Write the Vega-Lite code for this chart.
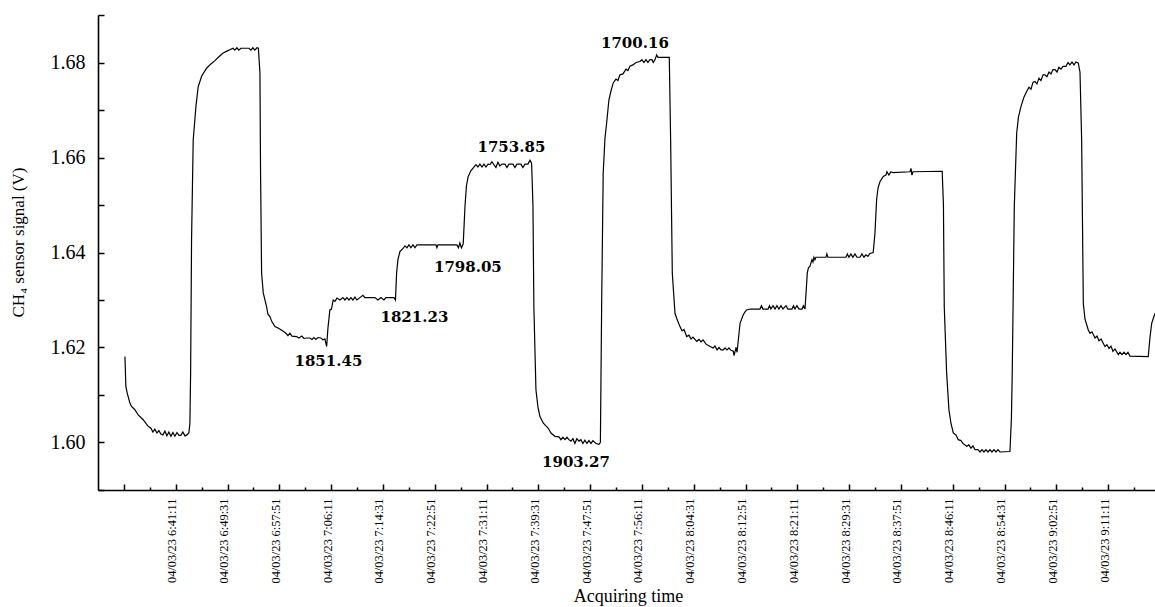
{
"$schema": "https://vega.github.io/schema/vega-lite/v6.json",
"width": 1057,
"height": 475,
"autosize": {"type": "none"},
"padding": {"left": 98, "top": 15, "right": 0, "bottom": 117},
"background": "white",
"config": {"view": {"stroke": null}},
"datasets": {
"signal": [
{"t":"2023-04-03 06:33:01","v":1.6181},{"t":"2023-04-03 06:33:10","v":1.6118},{"t":"2023-04-03 06:33:23","v":1.6104},{"t":"2023-04-03 06:33:49","v":1.6083},{"t":"2023-04-03 06:34:05","v":1.6076},{"t":"2023-04-03 06:34:37","v":1.6069},{"t":"2023-04-03 06:35:09","v":1.6058},{"t":"2023-04-03 06:35:57","v":1.6048},{"t":"2023-04-03 06:36:45","v":1.6034},{"t":"2023-04-03 06:37:12","v":1.6030},{"t":"2023-04-03 06:37:31","v":1.6022},{"t":"2023-04-03 06:37:50","v":1.6028},{"t":"2023-04-03 06:38:10","v":1.6020},{"t":"2023-04-03 06:38:29","v":1.6025},{"t":"2023-04-03 06:38:48","v":1.6018},{"t":"2023-04-03 06:39:07","v":1.6016},{"t":"2023-04-03 06:39:27","v":1.6024},{"t":"2023-04-03 06:39:46","v":1.6014},{"t":"2023-04-03 06:40:05","v":1.6022},{"t":"2023-04-03 06:40:25","v":1.6013},{"t":"2023-04-03 06:40:44","v":1.6021},{"t":"2023-04-03 06:41:03","v":1.6013},{"t":"2023-04-03 06:41:23","v":1.6021},{"t":"2023-04-03 06:41:42","v":1.6015},{"t":"2023-04-03 06:42:01","v":1.6015},{"t":"2023-04-03 06:42:20","v":1.6022},{"t":"2023-04-03 06:42:40","v":1.6014},{"t":"2023-04-03 06:42:59","v":1.6016},{"t":"2023-04-03 06:43:18","v":1.6020},{"t":"2023-04-03 06:43:28","v":1.6040},{"t":"2023-04-03 06:43:35","v":1.6147},{"t":"2023-04-03 06:43:44","v":1.6427},{"t":"2023-04-03 06:44:00","v":1.6637},{"t":"2023-04-03 06:44:26","v":1.6707},{"t":"2023-04-03 06:44:48","v":1.6749},{"t":"2023-04-03 06:45:21","v":1.6771},{"t":"2023-04-03 06:46:09","v":1.6788},{"t":"2023-04-03 06:46:51","v":1.6797},{"t":"2023-04-03 06:47:29","v":1.6804},{"t":"2023-04-03 06:48:08","v":1.6812},{"t":"2023-04-03 06:48:49","v":1.6820},{"t":"2023-04-03 06:49:25","v":1.6824},{"t":"2023-04-03 06:49:54","v":1.6827},{"t":"2023-04-03 06:50:23","v":1.6830},{"t":"2023-04-03 06:50:42","v":1.6826},{"t":"2023-04-03 06:51:02","v":1.6831},{"t":"2023-04-03 06:51:21","v":1.6826},{"t":"2023-04-03 06:51:40","v":1.6830},{"t":"2023-04-03 06:52:19","v":1.6830},{"t":"2023-04-03 06:52:58","v":1.6830},{"t":"2023-04-03 06:53:17","v":1.6826},{"t":"2023-04-03 06:53:36","v":1.6831},{"t":"2023-04-03 06:53:55","v":1.6826},{"t":"2023-04-03 06:54:15","v":1.6831},{"t":"2023-04-03 06:54:29","v":1.6830},{"t":"2023-04-03 06:54:44","v":1.6778},{"t":"2023-04-03 06:54:50","v":1.6568},{"t":"2023-04-03 06:55:00","v":1.6357},{"t":"2023-04-03 06:55:16","v":1.6315},{"t":"2023-04-03 06:55:48","v":1.6286},{"t":"2023-04-03 06:56:01","v":1.6270},{"t":"2023-04-03 06:56:20","v":1.6265},{"t":"2023-04-03 06:56:40","v":1.6254},{"t":"2023-04-03 06:57:09","v":1.6244},{"t":"2023-04-03 06:57:47","v":1.6240},{"t":"2023-04-03 06:58:29","v":1.6234},{"t":"2023-04-03 06:58:55","v":1.6230},{"t":"2023-04-03 06:59:14","v":1.6225},{"t":"2023-04-03 06:59:33","v":1.6230},{"t":"2023-04-03 06:59:53","v":1.6224},{"t":"2023-04-03 07:00:38","v":1.6223},{"t":"2023-04-03 07:01:00","v":1.6220},{"t":"2023-04-03 07:01:29","v":1.6224},{"t":"2023-04-03 07:01:48","v":1.6219},{"t":"2023-04-03 07:02:15","v":1.6220},{"t":"2023-04-03 07:02:46","v":1.6220},{"t":"2023-04-03 07:03:06","v":1.6217},{"t":"2023-04-03 07:03:25","v":1.6221},{"t":"2023-04-03 07:03:44","v":1.6217},{"t":"2023-04-03 07:04:04","v":1.6221},{"t":"2023-04-03 07:04:33","v":1.6220},{"t":"2023-04-03 07:04:52","v":1.6216},{"t":"2023-04-03 07:05:11","v":1.6218},{"t":"2023-04-03 07:05:28","v":1.6202},{"t":"2023-04-03 07:05:40","v":1.6240},{"t":"2023-04-03 07:05:59","v":1.6279},{"t":"2023-04-03 07:06:14","v":1.6281},{"t":"2023-04-03 07:06:31","v":1.6300},{"t":"2023-04-03 07:06:48","v":1.6297},{"t":"2023-04-03 07:07:07","v":1.6304},{"t":"2023-04-03 07:07:36","v":1.6300},{"t":"2023-04-03 07:08:05","v":1.6305},{"t":"2023-04-03 07:08:24","v":1.6300},{"t":"2023-04-03 07:08:43","v":1.6305},{"t":"2023-04-03 07:09:03","v":1.6300},{"t":"2023-04-03 07:09:22","v":1.6305},{"t":"2023-04-03 07:09:41","v":1.6300},{"t":"2023-04-03 07:10:01","v":1.6306},{"t":"2023-04-03 07:10:20","v":1.6300},{"t":"2023-04-03 07:10:49","v":1.6305},{"t":"2023-04-03 07:11:18","v":1.6310},{"t":"2023-04-03 07:11:37","v":1.6305},{"t":"2023-04-03 07:13:14","v":1.6305},{"t":"2023-04-03 07:13:43","v":1.6300},{"t":"2023-04-03 07:14:12","v":1.6305},{"t":"2023-04-03 07:14:41","v":1.6300},{"t":"2023-04-03 07:15:00","v":1.6305},{"t":"2023-04-03 07:16:17","v":1.6305},{"t":"2023-04-03 07:16:32","v":1.6300},{"t":"2023-04-03 07:16:43","v":1.6357},{"t":"2023-04-03 07:16:56","v":1.6385},{"t":"2023-04-03 07:17:15","v":1.6402},{"t":"2023-04-03 07:17:47","v":1.6409},{"t":"2023-04-03 07:18:03","v":1.6414},{"t":"2023-04-03 07:18:23","v":1.6410},{"t":"2023-04-03 07:18:42","v":1.6416},{"t":"2023-04-03 07:19:01","v":1.6410},{"t":"2023-04-03 07:19:21","v":1.6416},{"t":"2023-04-03 07:19:40","v":1.6410},{"t":"2023-04-03 07:19:59","v":1.6416},{"t":"2023-04-03 07:20:28","v":1.6416},{"t":"2023-04-03 07:23:03","v":1.6416},{"t":"2023-04-03 07:23:12","v":1.6410},{"t":"2023-04-03 07:23:22","v":1.6416},{"t":"2023-04-03 07:26:25","v":1.6416},{"t":"2023-04-03 07:26:40","v":1.6410},{"t":"2023-04-03 07:26:54","v":1.6420},{"t":"2023-04-03 07:27:09","v":1.6410},{"t":"2023-04-03 07:27:26","v":1.6418},{"t":"2023-04-03 07:27:43","v":1.6497},{"t":"2023-04-03 07:27:57","v":1.6540},{"t":"2023-04-03 07:28:14","v":1.6560},{"t":"2023-04-03 07:28:40","v":1.6572},{"t":"2023-04-03 07:29:03","v":1.6578},{"t":"2023-04-03 07:29:29","v":1.6585},{"t":"2023-04-03 07:29:48","v":1.6580},{"t":"2023-04-03 07:30:07","v":1.6586},{"t":"2023-04-03 07:30:27","v":1.6580},{"t":"2023-04-03 07:30:46","v":1.6586},{"t":"2023-04-03 07:31:05","v":1.6580},{"t":"2023-04-03 07:31:25","v":1.6586},{"t":"2023-04-03 07:31:44","v":1.6585},{"t":"2023-04-03 07:32:03","v":1.6591},{"t":"2023-04-03 07:32:22","v":1.6585},{"t":"2023-04-03 07:32:42","v":1.6579},{"t":"2023-04-03 07:33:01","v":1.6590},{"t":"2023-04-03 07:33:20","v":1.6582},{"t":"2023-04-03 07:33:40","v":1.6586},{"t":"2023-04-03 07:34:09","v":1.6586},{"t":"2023-04-03 07:34:28","v":1.6579},{"t":"2023-04-03 07:34:47","v":1.6586},{"t":"2023-04-03 07:35:26","v":1.6586},{"t":"2023-04-03 07:35:45","v":1.6579},{"t":"2023-04-03 07:36:04","v":1.6586},{"t":"2023-04-03 07:36:43","v":1.6586},{"t":"2023-04-03 07:37:02","v":1.6579},{"t":"2023-04-03 07:37:22","v":1.6586},{"t":"2023-04-03 07:37:51","v":1.6586},{"t":"2023-04-03 07:38:10","v":1.6594},{"t":"2023-04-03 07:38:26","v":1.6588},{"t":"2023-04-03 07:38:39","v":1.6500},{"t":"2023-04-03 07:38:48","v":1.6286},{"t":"2023-04-03 07:39:08","v":1.6111},{"t":"2023-04-03 07:39:27","v":1.6075},{"t":"2023-04-03 07:39:46","v":1.6055},{"t":"2023-04-03 07:40:18","v":1.6041},{"t":"2023-04-03 07:40:44","v":1.6035},{"t":"2023-04-03 07:41:07","v":1.6030},{"t":"2023-04-03 07:41:33","v":1.6020},{"t":"2023-04-03 07:42:11","v":1.6013},{"t":"2023-04-03 07:42:50","v":1.6012},{"t":"2023-04-03 07:43:09","v":1.6006},{"t":"2023-04-03 07:43:28","v":1.6011},{"t":"2023-04-03 07:43:48","v":1.6006},{"t":"2023-04-03 07:44:07","v":1.6011},{"t":"2023-04-03 07:44:26","v":1.6006},{"t":"2023-04-03 07:44:46","v":1.6003},{"t":"2023-04-03 07:45:05","v":1.6008},{"t":"2023-04-03 07:45:24","v":1.5998},{"t":"2023-04-03 07:45:43","v":1.6008},{"t":"2023-04-03 07:46:03","v":1.6003},{"t":"2023-04-03 07:46:22","v":1.6006},{"t":"2023-04-03 07:46:41","v":1.5998},{"t":"2023-04-03 07:47:01","v":1.6005},{"t":"2023-04-03 07:47:20","v":1.5998},{"t":"2023-04-03 07:47:39","v":1.6004},{"t":"2023-04-03 07:47:59","v":1.5998},{"t":"2023-04-03 07:48:18","v":1.6004},{"t":"2023-04-03 07:48:47","v":1.5998},{"t":"2023-04-03 07:49:16","v":1.5996},{"t":"2023-04-03 07:49:30","v":1.6000},{"t":"2023-04-03 07:49:42","v":1.6286},{"t":"2023-04-03 07:49:57","v":1.6567},{"t":"2023-04-03 07:50:14","v":1.6640},{"t":"2023-04-03 07:50:30","v":1.6672},{"t":"2023-04-03 07:50:52","v":1.6721},{"t":"2023-04-03 07:51:12","v":1.6740},{"t":"2023-04-03 07:51:34","v":1.6757},{"t":"2023-04-03 07:52:00","v":1.6765},{"t":"2023-04-03 07:52:19","v":1.6762},{"t":"2023-04-03 07:52:39","v":1.6774},{"t":"2023-04-03 07:53:08","v":1.6776},{"t":"2023-04-03 07:53:37","v":1.6786},{"t":"2023-04-03 07:53:56","v":1.6783},{"t":"2023-04-03 07:54:15","v":1.6792},{"t":"2023-04-03 07:54:44","v":1.6795},{"t":"2023-04-03 07:55:13","v":1.6800},{"t":"2023-04-03 07:55:52","v":1.6802},{"t":"2023-04-03 07:56:11","v":1.6806},{"t":"2023-04-03 07:56:30","v":1.6800},{"t":"2023-04-03 07:56:50","v":1.6806},{"t":"2023-04-03 07:57:09","v":1.6800},{"t":"2023-04-03 07:57:28","v":1.6806},{"t":"2023-04-03 07:57:48","v":1.6806},{"t":"2023-04-03 07:58:00","v":1.6800},{"t":"2023-04-03 07:58:17","v":1.6806},{"t":"2023-04-03 07:58:33","v":1.6816},{"t":"2023-04-03 07:58:46","v":1.6811},{"t":"2023-04-03 08:00:35","v":1.6811},{"t":"2023-04-03 08:00:48","v":1.6637},{"t":"2023-04-03 08:01:04","v":1.6357},{"t":"2023-04-03 08:01:30","v":1.6272},{"t":"2023-04-03 08:01:49","v":1.6260},{"t":"2023-04-03 08:02:18","v":1.6244},{"t":"2023-04-03 08:02:38","v":1.6235},{"t":"2023-04-03 08:02:57","v":1.6238},{"t":"2023-04-03 08:03:23","v":1.6223},{"t":"2023-04-03 08:03:45","v":1.6226},{"t":"2023-04-03 08:04:05","v":1.6218},{"t":"2023-04-03 08:04:24","v":1.6222},{"t":"2023-04-03 08:05:00","v":1.6213},{"t":"2023-04-03 08:05:22","v":1.6217},{"t":"2023-04-03 08:05:41","v":1.6212},{"t":"2023-04-03 08:06:01","v":1.6216},{"t":"2023-04-03 08:06:30","v":1.6207},{"t":"2023-04-03 08:07:08","v":1.6202},{"t":"2023-04-03 08:07:37","v":1.6199},{"t":"2023-04-03 08:07:56","v":1.6203},{"t":"2023-04-03 08:08:16","v":1.6195},{"t":"2023-04-03 08:08:35","v":1.6200},{"t":"2023-04-03 08:08:54","v":1.6195},{"t":"2023-04-03 08:09:16","v":1.6195},{"t":"2023-04-03 08:09:33","v":1.6199},{"t":"2023-04-03 08:09:52","v":1.6195},{"t":"2023-04-03 08:10:11","v":1.6199},{"t":"2023-04-03 08:10:31","v":1.6194},{"t":"2023-04-03 08:10:53","v":1.6192},{"t":"2023-04-03 08:11:00","v":1.6183},{"t":"2023-04-03 08:11:19","v":1.6200},{"t":"2023-04-03 08:11:29","v":1.6190},{"t":"2023-04-03 08:11:58","v":1.6251},{"t":"2023-04-03 08:12:29","v":1.6269},{"t":"2023-04-03 08:12:46","v":1.6275},{"t":"2023-04-03 08:13:02","v":1.6279},{"t":"2023-04-03 08:13:34","v":1.6281},{"t":"2023-04-03 08:15:10","v":1.6281},{"t":"2023-04-03 08:15:25","v":1.6288},{"t":"2023-04-03 08:15:39","v":1.6281},{"t":"2023-04-03 08:16:28","v":1.6281},{"t":"2023-04-03 08:16:42","v":1.6288},{"t":"2023-04-03 08:16:56","v":1.6281},{"t":"2023-04-03 08:17:16","v":1.6288},{"t":"2023-04-03 08:17:35","v":1.6281},{"t":"2023-04-03 08:17:54","v":1.6288},{"t":"2023-04-03 08:18:13","v":1.6281},{"t":"2023-04-03 08:18:33","v":1.6288},{"t":"2023-04-03 08:18:52","v":1.6281},{"t":"2023-04-03 08:19:21","v":1.6288},{"t":"2023-04-03 08:19:40","v":1.6281},{"t":"2023-04-03 08:20:19","v":1.6281},{"t":"2023-04-03 08:20:34","v":1.6288},{"t":"2023-04-03 08:20:48","v":1.6281},{"t":"2023-04-03 08:21:07","v":1.6288},{"t":"2023-04-03 08:21:27","v":1.6281},{"t":"2023-04-03 08:21:56","v":1.6281},{"t":"2023-04-03 08:22:10","v":1.6288},{"t":"2023-04-03 08:22:25","v":1.6281},{"t":"2023-04-03 08:22:47","v":1.6357},{"t":"2023-04-03 08:22:58","v":1.6368},{"t":"2023-04-03 08:23:13","v":1.6371},{"t":"2023-04-03 08:23:32","v":1.6385},{"t":"2023-04-03 08:23:42","v":1.6380},{"t":"2023-04-03 08:23:51","v":1.6390},{"t":"2023-04-03 08:24:01","v":1.6385},{"t":"2023-04-03 08:24:10","v":1.6390},{"t":"2023-04-03 08:25:47","v":1.6390},{"t":"2023-04-03 08:25:56","v":1.6397},{"t":"2023-04-03 08:26:06","v":1.6390},{"t":"2023-04-03 08:29:00","v":1.6390},{"t":"2023-04-03 08:29:14","v":1.6397},{"t":"2023-04-03 08:29:29","v":1.6390},{"t":"2023-04-03 08:29:48","v":1.6397},{"t":"2023-04-03 08:30:07","v":1.6390},{"t":"2023-04-03 08:30:27","v":1.6397},{"t":"2023-04-03 08:30:46","v":1.6390},{"t":"2023-04-03 08:31:15","v":1.6390},{"t":"2023-04-03 08:31:34","v":1.6397},{"t":"2023-04-03 08:31:54","v":1.6390},{"t":"2023-04-03 08:32:13","v":1.6395},{"t":"2023-04-03 08:32:32","v":1.6392},{"t":"2023-04-03 08:32:51","v":1.6398},{"t":"2023-04-03 08:33:23","v":1.6400},{"t":"2023-04-03 08:33:40","v":1.6440},{"t":"2023-04-03 08:33:56","v":1.6511},{"t":"2023-04-03 08:34:09","v":1.6535},{"t":"2023-04-03 08:34:28","v":1.6549},{"t":"2023-04-03 08:35:00","v":1.6560},{"t":"2023-04-03 08:35:26","v":1.6563},{"t":"2023-04-03 08:35:36","v":1.6570},{"t":"2023-04-03 08:35:55","v":1.6563},{"t":"2023-04-03 08:36:14","v":1.6570},{"t":"2023-04-03 08:36:34","v":1.6568},{"t":"2023-04-03 08:39:18","v":1.6570},{"t":"2023-04-03 08:39:28","v":1.6577},{"t":"2023-04-03 08:39:37","v":1.6563},{"t":"2023-04-03 08:39:47","v":1.6570},{"t":"2023-04-03 08:44:29","v":1.6571},{"t":"2023-04-03 08:44:41","v":1.6500},{"t":"2023-04-03 08:44:49","v":1.6286},{"t":"2023-04-03 08:45:12","v":1.6146},{"t":"2023-04-03 08:45:34","v":1.6069},{"t":"2023-04-03 08:45:54","v":1.6040},{"t":"2023-04-03 08:46:16","v":1.6020},{"t":"2023-04-03 08:46:42","v":1.6016},{"t":"2023-04-03 08:47:04","v":1.6006},{"t":"2023-04-03 08:47:30","v":1.6004},{"t":"2023-04-03 08:47:49","v":1.5998},{"t":"2023-04-03 08:48:25","v":1.5992},{"t":"2023-04-03 08:48:47","v":1.5995},{"t":"2023-04-03 08:49:07","v":1.5988},{"t":"2023-04-03 08:49:26","v":1.5993},{"t":"2023-04-03 08:49:45","v":1.5985},{"t":"2023-04-03 08:50:14","v":1.5985},{"t":"2023-04-03 08:50:34","v":1.5980},{"t":"2023-04-03 08:50:53","v":1.5985},{"t":"2023-04-03 08:51:12","v":1.5980},{"t":"2023-04-03 08:51:31","v":1.5985},{"t":"2023-04-03 08:51:51","v":1.5980},{"t":"2023-04-03 08:52:10","v":1.5985},{"t":"2023-04-03 08:52:29","v":1.5980},{"t":"2023-04-03 08:52:49","v":1.5985},{"t":"2023-04-03 08:53:08","v":1.5980},{"t":"2023-04-03 08:53:27","v":1.5985},{"t":"2023-04-03 08:53:47","v":1.5980},{"t":"2023-04-03 08:55:23","v":1.5981},{"t":"2023-04-03 08:55:37","v":1.6050},{"t":"2023-04-03 08:55:45","v":1.6146},{"t":"2023-04-03 08:56:05","v":1.6497},{"t":"2023-04-03 08:56:28","v":1.6651},{"t":"2023-04-03 08:56:45","v":1.6685},{"t":"2023-04-03 08:57:09","v":1.6707},{"t":"2023-04-03 08:57:38","v":1.6727},{"t":"2023-04-03 08:58:04","v":1.6739},{"t":"2023-04-03 08:58:27","v":1.6748},{"t":"2023-04-03 08:58:46","v":1.6744},{"t":"2023-04-03 08:59:05","v":1.6758},{"t":"2023-04-03 08:59:25","v":1.6760},{"t":"2023-04-03 08:59:44","v":1.6755},{"t":"2023-04-03 09:00:03","v":1.6767},{"t":"2023-04-03 09:00:22","v":1.6762},{"t":"2023-04-03 09:00:42","v":1.6774},{"t":"2023-04-03 09:01:01","v":1.6774},{"t":"2023-04-03 09:01:20","v":1.6770},{"t":"2023-04-03 09:01:40","v":1.6780},{"t":"2023-04-03 09:01:59","v":1.6776},{"t":"2023-04-03 09:02:18","v":1.6785},{"t":"2023-04-03 09:02:38","v":1.6785},{"t":"2023-04-03 09:02:57","v":1.6780},{"t":"2023-04-03 09:03:16","v":1.6790},{"t":"2023-04-03 09:03:35","v":1.6786},{"t":"2023-04-03 09:03:55","v":1.6792},{"t":"2023-04-03 09:04:24","v":1.6792},{"t":"2023-04-03 09:04:43","v":1.6800},{"t":"2023-04-03 09:05:02","v":1.6795},{"t":"2023-04-03 09:05:22","v":1.6801},{"t":"2023-04-03 09:05:41","v":1.6795},{"t":"2023-04-03 09:06:00","v":1.6801},{"t":"2023-04-03 09:06:22","v":1.6799},{"t":"2023-04-03 09:06:39","v":1.6780},{"t":"2023-04-03 09:06:55","v":1.6637},{"t":"2023-04-03 09:07:11","v":1.6293},{"t":"2023-04-03 09:07:27","v":1.6260},{"t":"2023-04-03 09:07:59","v":1.6237},{"t":"2023-04-03 09:08:16","v":1.6230},{"t":"2023-04-03 09:08:35","v":1.6233},{"t":"2023-04-03 09:09:04","v":1.6220},{"t":"2023-04-03 09:09:23","v":1.6224},{"t":"2023-04-03 09:09:42","v":1.6214},{"t":"2023-04-03 09:10:02","v":1.6218},{"t":"2023-04-03 09:10:21","v":1.6210},{"t":"2023-04-03 09:10:40","v":1.6202},{"t":"2023-04-03 09:10:59","v":1.6206},{"t":"2023-04-03 09:11:19","v":1.6198},{"t":"2023-04-03 09:11:38","v":1.6203},{"t":"2023-04-03 09:11:57","v":1.6192},{"t":"2023-04-03 09:12:17","v":1.6197},{"t":"2023-04-03 09:12:49","v":1.6185},{"t":"2023-04-03 09:13:05","v":1.6190},{"t":"2023-04-03 09:13:24","v":1.6185},{"t":"2023-04-03 09:13:44","v":1.6190},{"t":"2023-04-03 09:14:03","v":1.6185},{"t":"2023-04-03 09:14:22","v":1.6190},{"t":"2023-04-03 09:14:41","v":1.6182},{"t":"2023-04-03 09:17:38","v":1.6181},{"t":"2023-04-03 09:17:54","v":1.6220},{"t":"2023-04-03 09:18:11","v":1.6251},{"t":"2023-04-03 09:18:43","v":1.6272}
],
"notes": [
{"t":"2023-04-03 07:05:45","v":1.6172,"label":"1851.45"},
{"t":"2023-04-03 07:19:35","v":1.62636,"label":"1821.23"},
{"t":"2023-04-03 07:28:11","v":1.63688,"label":"1798.05"},
{"t":"2023-04-03 07:35:11","v":1.66221,"label":"1753.85"},
{"t":"2023-04-03 07:55:03","v":1.68411,"label":"1700.16"},
{"t":"2023-04-03 07:45:34","v":1.59587,"label":"1903.27"}
]
},
"layer": [
{
"data": {"name": "signal"},
"mark": {"type": "line", "color": "black", "strokeWidth": 1.2, "clip": true},
"encoding": {
"x": {"field": "t", "type": "temporal",
"scale": {"domain": [{"year":2023,"month":4,"date":3,"hours":6,"minutes":28,"seconds":41},{"year":2023,"month":4,"date":3,"hours":9,"minutes":18,"seconds":43}], "nice": false},
"axis": {"orient": "bottom", "grid": false,
"values": [
{"year":2023,"month":4,"date":3,"hours":6,"minutes":32,"seconds":51},
{"year":2023,"month":4,"date":3,"hours":6,"minutes":41,"seconds":11},
{"year":2023,"month":4,"date":3,"hours":6,"minutes":49,"seconds":31},
{"year":2023,"month":4,"date":3,"hours":6,"minutes":57,"seconds":51},
{"year":2023,"month":4,"date":3,"hours":7,"minutes":6,"seconds":11},
{"year":2023,"month":4,"date":3,"hours":7,"minutes":14,"seconds":31},
{"year":2023,"month":4,"date":3,"hours":7,"minutes":22,"seconds":51},
{"year":2023,"month":4,"date":3,"hours":7,"minutes":31,"seconds":11},
{"year":2023,"month":4,"date":3,"hours":7,"minutes":39,"seconds":31},
{"year":2023,"month":4,"date":3,"hours":7,"minutes":47,"seconds":51},
{"year":2023,"month":4,"date":3,"hours":7,"minutes":56,"seconds":11},
{"year":2023,"month":4,"date":3,"hours":8,"minutes":4,"seconds":31},
{"year":2023,"month":4,"date":3,"hours":8,"minutes":12,"seconds":51},
{"year":2023,"month":4,"date":3,"hours":8,"minutes":21,"seconds":11},
{"year":2023,"month":4,"date":3,"hours":8,"minutes":29,"seconds":31},
{"year":2023,"month":4,"date":3,"hours":8,"minutes":37,"seconds":51},
{"year":2023,"month":4,"date":3,"hours":8,"minutes":46,"seconds":11},
{"year":2023,"month":4,"date":3,"hours":8,"minutes":54,"seconds":31},
{"year":2023,"month":4,"date":3,"hours":9,"minutes":2,"seconds":51},
{"year":2023,"month":4,"date":3,"hours":9,"minutes":11,"seconds":11}
],
"format": "%m/%d/%y %-H:%M:%S",
"labelExpr": "datum.index == 0 ? '' : datum.label",
"labelAngle": 270, "labelAlign": "right", "labelBaseline": "alphabetic",
"labelFont": "Liberation Serif", "labelFontSize": 12.4, "labelColor": "black",
"labelPadding": 14, "labelOverlap": false, "labelBound": false, "labelFlush": false,
"tickSize": -6, "tickWidth": 1.5, "tickColor": "black",
"domainColor": "black", "domainWidth": 1.6,
"title": "Acquiring time", "titleFont": "Liberation Serif", "titleFontSize": 18, "titleFontWeight": "normal", "titleColor": "black",
"titleX": 530, "titleY": 111, "titleAlign": "center", "titleBaseline": "alphabetic", "titleAngle": 0
}},
"y": {"field": "v", "type": "quantitative",
"scale": {"domain": [1.59, 1.69], "nice": false, "zero": false},
"axis": {"grid": false,
"values": [1.59, 1.6, 1.61, 1.62, 1.63, 1.64, 1.65, 1.66, 1.67, 1.68, 1.69],
"labelExpr": "round(datum.value * 100) % 2 == 0 ? format(datum.value, '.2f') : ''",
"labelFont": "Liberation Serif", "labelFontSize": 20, "labelColor": "black", "labelPadding": 19,
"labelOverlap": false, "labelBound": false, "labelFlush": false,
"tickSize": -6, "tickWidth": 1.5, "tickColor": "black",
"domainColor": "black", "domainWidth": 1.6,
"title": "CH₄ sensor signal (V)", "titleFont": "Liberation Serif", "titleFontSize": 17, "titleFontWeight": "normal", "titleColor": "black",
"titleX": -80, "titleY": 227, "titleAngle": 270, "titleAlign": "center", "titleBaseline": "middle"
}}
}
},
{
"data": {"name": "notes"},
"mark": {"type": "text", "font": "DejaVu Serif", "fontWeight": "bold", "fontSize": 15, "color": "black", "baseline": "middle", "align": "center"},
"encoding": {
"x": {"field": "t", "type": "temporal",
"axis": {"orient": "bottom", "grid": false, "labels": false, "domain": false, "title": null,
"tickSize": -3, "tickWidth": 1.5, "tickColor": "black",
"values": [
{"year":2023,"month":4,"date":3,"hours":6,"minutes":37,"seconds":1},
{"year":2023,"month":4,"date":3,"hours":6,"minutes":45,"seconds":21},
{"year":2023,"month":4,"date":3,"hours":6,"minutes":53,"seconds":41},
{"year":2023,"month":4,"date":3,"hours":7,"minutes":2,"seconds":1},
{"year":2023,"month":4,"date":3,"hours":7,"minutes":10,"seconds":21},
{"year":2023,"month":4,"date":3,"hours":7,"minutes":18,"seconds":41},
{"year":2023,"month":4,"date":3,"hours":7,"minutes":27,"seconds":1},
{"year":2023,"month":4,"date":3,"hours":7,"minutes":35,"seconds":21},
{"year":2023,"month":4,"date":3,"hours":7,"minutes":43,"seconds":41},
{"year":2023,"month":4,"date":3,"hours":7,"minutes":52,"seconds":1},
{"year":2023,"month":4,"date":3,"hours":8,"minutes":0,"seconds":21},
{"year":2023,"month":4,"date":3,"hours":8,"minutes":8,"seconds":41},
{"year":2023,"month":4,"date":3,"hours":8,"minutes":17,"seconds":1},
{"year":2023,"month":4,"date":3,"hours":8,"minutes":25,"seconds":21},
{"year":2023,"month":4,"date":3,"hours":8,"minutes":33,"seconds":41},
{"year":2023,"month":4,"date":3,"hours":8,"minutes":42,"seconds":1},
{"year":2023,"month":4,"date":3,"hours":8,"minutes":50,"seconds":21},
{"year":2023,"month":4,"date":3,"hours":8,"minutes":58,"seconds":41},
{"year":2023,"month":4,"date":3,"hours":9,"minutes":7,"seconds":1},
{"year":2023,"month":4,"date":3,"hours":9,"minutes":15,"seconds":21}
]}},
"y": {"field": "v", "type": "quantitative"},
"text": {"field": "label"}
}
}
],
"resolve": {"axis": {"x": "independent"}}
}
